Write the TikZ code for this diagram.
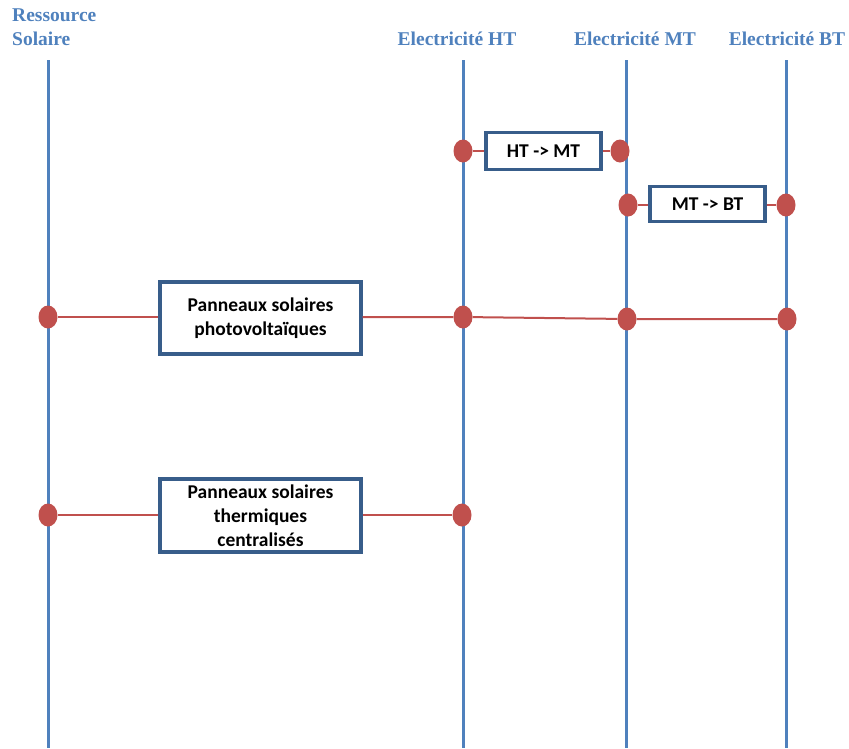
\documentclass[tikz,border=0pt]{standalone}
\usepackage{fontspec}
\usetikzlibrary{shapes.geometric}
\setmainfont{Liberation Serif}
\newfontfamily\boxfont{Carlito}
\definecolor{lineblue}{HTML}{4F81BD}
\definecolor{boxblue}{HTML}{385D8A}
\definecolor{dotred}{HTML}{C0504D}
\begin{document}
\begin{tikzpicture}[x=1pt,y=-1pt,
  axis/.style={draw=lineblue,line width=3pt},
  hdr/.style={text=lineblue,font=\fontsize{19.5}{23}\selectfont\bfseries,inner sep=0pt},
  proc/.style={draw=boxblue,line width=3.4pt,fill=white,font=\boxfont\fontsize{19.5}{24}\selectfont\bfseries,align=center,inner sep=0pt},
  dot/.style={ellipse,fill=dotred,minimum width=19pt,minimum height=23pt,inner sep=0pt},
  link/.style={draw=dotred,line width=2pt}]
\useasboundingbox (0,0) rectangle (849,748);
% axes
\coordinate (aT) at (48,60);  \coordinate (aB) at (48,748);
\coordinate (bT) at (463,60); \coordinate (bB) at (463,748);
\coordinate (cT) at (626,60); \coordinate (cB) at (626,748);
\coordinate (dT) at (786,60); \coordinate (dB) at (786,748);
\draw[axis] (aT) -- (aB);
\draw[axis] (bT) -- (bB);
\draw[axis] (cT) -- (cB);
\draw[axis] (dT) -- (dB);
% headers
\node[hdr,anchor=base west] (h1) at (12,21) {Ressource};
\node[hdr,anchor=base west] (h1b) at (12,45) {Solaire};
\node[hdr,anchor=base] (h2) at (457,45) {Electricité HT};
\node[hdr,anchor=base] (h3) at (635,45) {Electricité MT};
\node[hdr,anchor=base] (h4) at (787,45) {Electricité BT};
% HT -> MT
\node[proc,minimum width=115pt,minimum height=37pt] (p1) at (543.5,151) {HT -> MT};
\node[dot] (d1a) at (463,151) {};
\node[dot] (d1b) at (620,151) {};
\draw[link] (d1a) -- (p1);
\draw[link] (p1) -- (d1b);
% MT -> BT
\node[proc,minimum width=115pt,minimum height=35pt] (p2) at (707.5,204) {MT -> BT};
\node[dot] (d2a) at (628,205) {};
\node[dot] (d2b) at (786,205) {};
\draw[link] (d2a) -- (p2.west |- d2a);
\draw[link] (p2.east |- d2b) -- (d2b);
% PV
\node[proc,minimum width=201pt,minimum height=72pt] (p3) at (260.5,318) {Panneaux solaires\\photovoltaïques};
\node[dot] (d3a) at (48,317) {};
\node[dot] (d3b) at (463,317) {};
\node[dot] (d3c) at (627,319) {};
\node[dot] (d3d) at (787,319) {};
\draw[link] (d3a) -- (p3.west |- d3a);
\draw[link] (p3.east |- d3b) -- (d3b) -- (d3c) -- (d3d);
% thermal
\node[proc,minimum width=201pt,minimum height=73pt] (p4) at (260.5,515.5) {Panneaux solaires\\thermiques\\centralisés};
\node[dot] (d4a) at (48,515) {};
\node[dot] (d4b) at (462,515) {};
\draw[link] (d4a) -- (p4.west |- d4a);
\draw[link] (p4.east |- d4b) -- (d4b);
\end{tikzpicture}
\end{document}
